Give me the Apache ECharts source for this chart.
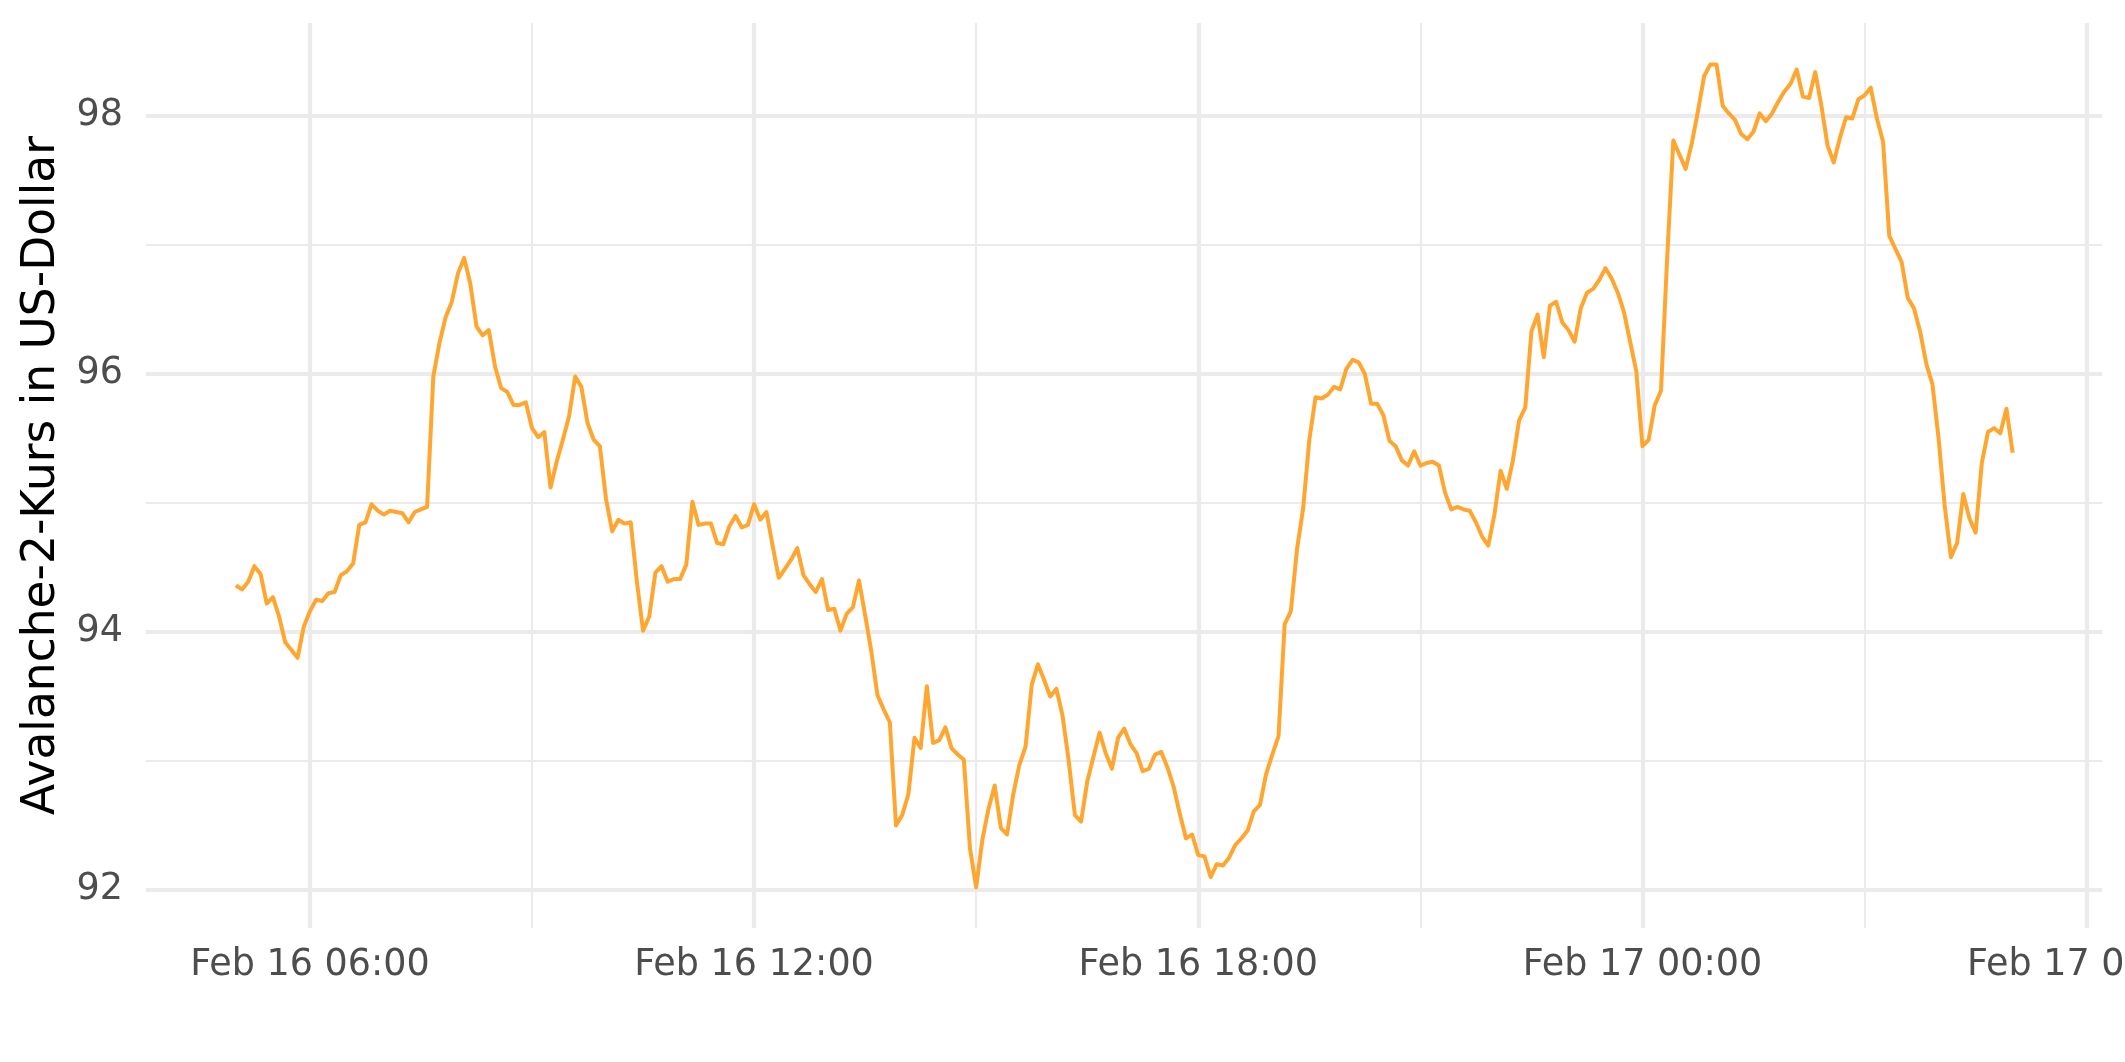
<!DOCTYPE html>
<html>
<head>
<meta charset="utf-8">
<script src="https://cdn.jsdelivr.net/npm/echarts@6/dist/echarts.min.js"></script>
<style>
html,body{margin:0;padding:0;background:#fff;}
#chart{width:2125px;height:1062px;}
</style>
</head>
<body>
<div id="chart"></div>
<script>
// Time: hours after Feb 16 00:00; one reading every 5 minutes from Feb 16 05:00
const startHour = 5;
const stepMinutes = 5;

// Avalanche-2 price in USD (5-minute steps)
const prices = [
  94.36, 94.33, 94.39, 94.51, 94.45, 94.22, 94.27, 94.12, 93.92, 93.86,
  93.80, 94.04, 94.16, 94.25, 94.24, 94.30, 94.31, 94.44, 94.47, 94.53,
  94.83, 94.85, 94.99, 94.94, 94.91, 94.94, 94.93, 94.92, 94.85, 94.93,
  94.95, 94.97, 95.98, 96.24, 96.44, 96.56, 96.78, 96.90, 96.70, 96.37,
  96.30, 96.34, 96.06, 95.89, 95.86, 95.76, 95.76, 95.78, 95.58, 95.51,
  95.55, 95.12, 95.32, 95.49, 95.67, 95.98, 95.90, 95.62, 95.49, 95.44,
  95.03, 94.78, 94.87, 94.84, 94.85, 94.39, 94.01, 94.12, 94.46, 94.51,
  94.39, 94.41, 94.41, 94.52, 95.01, 94.83, 94.84, 94.84, 94.69,
  94.68, 94.82, 94.90, 94.81, 94.83, 94.99, 94.87, 94.93, 94.67, 94.42,
  94.49, 94.56, 94.65, 94.44, 94.37, 94.31, 94.41, 94.17, 94.18, 94.01,
  94.14, 94.19, 94.40, 94.13, 93.85, 93.51, 93.40, 93.30, 92.50, 92.58,
  92.74, 93.18, 93.10, 93.58, 93.14, 93.16, 93.26, 93.10, 93.05, 93.01,
  92.32, 92.02, 92.39, 92.63, 92.81, 92.48, 92.43, 92.74, 92.97, 93.11,
  93.59, 93.75, 93.63, 93.50, 93.56, 93.35, 93.00, 92.58, 92.53, 92.84,
  93.03, 93.22, 93.06, 92.94, 93.18, 93.25, 93.13, 93.06, 92.92, 92.94,
  93.05, 93.07, 92.95, 92.80, 92.59, 92.40, 92.43, 92.27, 92.26, 92.10,
  92.20,
  92.19, 92.25, 92.35, 92.40, 92.46, 92.61, 92.66, 92.90, 93.05, 93.19,
  94.06, 94.16, 94.64, 94.96, 95.49, 95.82, 95.81, 95.84, 95.90, 95.88,
  96.04, 96.11, 96.09, 96.00, 95.77, 95.77, 95.68, 95.48, 95.44, 95.33,
  95.29, 95.40, 95.29, 95.31, 95.32, 95.29, 95.08, 94.95, 94.97, 94.95,
  94.94, 94.85, 94.74, 94.67, 94.91, 95.25, 95.11, 95.33, 95.64, 95.74,
  96.33, 96.46, 96.13, 96.53, 96.56, 96.40, 96.34, 96.25, 96.51, 96.63,
  96.66, 96.73, 96.82, 96.74, 96.63, 96.48, 96.25, 96.02, 95.44, 95.49,
  95.76, 95.87, 96.90, 97.81, 97.70, 97.59, 97.79, 98.04, 98.31, 98.40,
  98.40, 98.08, 98.02, 97.97, 97.86, 97.82, 97.88, 98.02, 97.96, 98.02,
  98.11, 98.19, 98.25, 98.36, 98.15, 98.14, 98.34, 98.08, 97.77, 97.64,
  97.83, 97.99, 97.98, 98.13, 98.16, 98.22, 97.98, 97.80, 97.07, 96.97,
  96.87, 96.59, 96.51, 96.33, 96.08, 95.92, 95.50, 94.97, 94.58, 94.69,
  95.07, 94.88, 94.77, 95.31, 95.55, 95.58, 95.54, 95.73, 95.39
];

const xTickHours = [6, 12, 18, 24, 30];
const xTickLabels = ['Feb 16 06:00', 'Feb 16 12:00', 'Feb 16 18:00', 'Feb 17 00:00', 'Feb 17 06:00'];
const xMinorHours = [9, 15, 21, 27];
const yTicks = [92, 94, 96, 98];
const yMinorTicks = [93, 95, 97];
const yTitle = 'Avalanche-2-Kurs in US-Dollar';

const xMin = 3.786, xMax = 30.207;
const yMin = 91.705, yMax = 98.721;

const seriesData = prices.map((v, i) => [startHour + i * stepMinutes / 60, v]);

const FONT = 'DejaVu Sans';
const GRID = '#ebebeb';

const chart = echarts.init(document.getElementById('chart'), null, {renderer: 'canvas'});
chart.setOption({
  animation: false,
  backgroundColor: '#ffffff',
  grid: {left: 146, right: 23, top: 23, bottom: 134, containLabel: false, outerBoundsMode: 'none'},
  xAxis: [
    {
      type: 'value', min: xMin, max: xMax, position: 'bottom',
      axisLine: {show: false},
      axisTick: {show: false, customValues: xTickHours},
      axisLabel: {
        customValues: xTickHours,
        formatter: v => xTickLabels[xTickHours.indexOf(v)] || '',
        fontSize: 36.5, color: '#4d4d4d', fontFamily: FONT, margin: 19
      },
      splitLine: {show: true, lineStyle: {color: GRID, width: 4.2}}
    },
    {
      type: 'value', min: xMin, max: xMax, position: 'top',
      axisLine: {show: false},
      axisTick: {show: false, customValues: xMinorHours},
      axisLabel: {show: false},
      splitLine: {show: true, lineStyle: {color: GRID, width: 2.1}}
    }
  ],
  yAxis: [
    {
      type: 'value', min: yMin, max: yMax, position: 'left',
      axisLine: {show: false},
      axisTick: {show: false, customValues: yTicks},
      axisLabel: {
        customValues: yTicks,
        fontSize: 36.5, color: '#4d4d4d', fontFamily: FONT, margin: 23
      },
      splitLine: {show: true, lineStyle: {color: GRID, width: 4.2}},
      name: yTitle, nameLocation: 'middle', nameGap: 80,
      nameTextStyle: {fontSize: 45.5, color: '#000000', fontFamily: FONT}
    },
    {
      type: 'value', min: yMin, max: yMax, position: 'right',
      axisLine: {show: false},
      axisTick: {show: false, customValues: yMinorTicks},
      axisLabel: {show: false},
      splitLine: {show: true, lineStyle: {color: GRID, width: 2.1}}
    }
  ],
  series: [{
    type: 'line',
    xAxisIndex: 0, yAxisIndex: 0,
    data: seriesData,
    showSymbol: false,
    symbol: 'none',
    lineStyle: {color: '#ffa630', width: 4, join: 'round'},
    z: 5
  }]
});
</script>
</body>
</html>
